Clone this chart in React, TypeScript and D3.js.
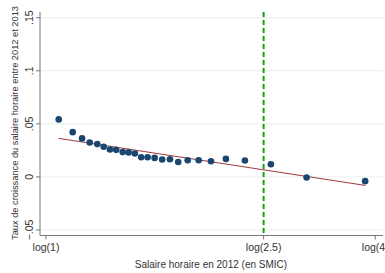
import React, { useEffect, useRef } from 'react';
import * as d3 from 'd3';

// binned points: hourly wage 2012 (in SMIC), growth rate 2012-2013
const wages = [1.055, 1.119, 1.164, 1.202, 1.241, 1.275, 1.309, 1.344, 1.381, 1.416, 1.454, 1.493, 1.534, 1.58, 1.631, 1.685, 1.745, 1.816, 1.902, 2.003, 2.133, 2.311, 2.578, 2.996, 3.834];
const growth = [0.0542, 0.0422, 0.0363, 0.0325, 0.0309, 0.0284, 0.0259, 0.0255, 0.0234, 0.0231, 0.0221, 0.0186, 0.0186, 0.0179, 0.0164, 0.0167, 0.0141, 0.0157, 0.0157, 0.0148, 0.017, 0.0155, 0.012, -0.0005, -0.004];

// linear fit ends
const fitX = [1.055, 3.834];
const fitY = [0.0363, -0.008];

const xTicks = [1, 2.5, 4];
const yTicks = [-0.05, 0, 0.05, 0.1, 0.15];
const threshold = 2.5;

const W = 385;
const H = 273;
const margin = { top: 12, right: 2, bottom: 38, left: 40 };

const fmtY = (v: number) => (v === 0 ? '0' : d3.format('.2~f')(v).replace('0.', '.'));

const App = () => {
  const ref = useRef<SVGSVGElement>(null);

  useEffect(() => {
    const svg = d3.select(ref.current);
    svg.selectAll('*').remove();

    const x = d3.scaleLog().domain([1, Math.exp(1.419)]).range([46, 383]);
    const y = d3.scaleLinear().domain([-0.05, 0.15]).range([230, 17.7]);
    const bottom = 235.5;
    const font = 'Liberation Sans, Arial, sans-serif';

    // grid
    svg.append('g')
      .selectAll('line')
      .data(yTicks)
      .enter()
      .append('line')
      .attr('x1', margin.left)
      .attr('x2', 383)
      .attr('y1', (d) => y(d))
      .attr('y2', (d) => y(d))
      .attr('stroke', '#e6eeee')
      .attr('stroke-width', 1);

    // axes
    const yAxis = svg.append('g').attr('transform', `translate(${margin.left},0)`);
    yAxis.append('line').attr('x1', 0).attr('x2', 0).attr('y1', margin.top).attr('y2', bottom).attr('stroke', '#777');
    yAxis.selectAll('.tick')
      .data(yTicks)
      .enter()
      .append('line')
      .attr('x1', -4)
      .attr('x2', 0)
      .attr('y1', (d) => y(d))
      .attr('y2', (d) => y(d))
      .attr('stroke', '#777');
    yAxis.selectAll('text')
      .data(yTicks)
      .enter()
      .append('text')
      .attr('transform', (d) => `translate(-7,${y(d)}) rotate(-90)`)
      .attr('text-anchor', 'middle')
      .attr('font-family', font)
      .attr('font-size', 10.5)
      .attr('fill', '#333')
      .text((d) => fmtY(d));

    const xAxis = svg.append('g');
    xAxis.append('line').attr('x1', margin.left).attr('x2', 383).attr('y1', bottom).attr('y2', bottom).attr('stroke', '#777');
    xAxis.selectAll('.tick')
      .data(xTicks)
      .enter()
      .append('line')
      .attr('x1', (d) => x(d))
      .attr('x2', (d) => x(d))
      .attr('y1', bottom)
      .attr('y2', bottom + 4)
      .attr('stroke', '#777');
    xAxis.selectAll('text')
      .data(xTicks)
      .enter()
      .append('text')
      .attr('x', (d) => x(d))
      .attr('y', bottom + 15)
      .attr('text-anchor', 'middle')
      .attr('font-family', font)
      .attr('font-size', 10.5)
      .attr('fill', '#333')
      .text((d) => `log(${d})`);

    // titles
    svg.append('text')
      .attr('x', 211)
      .attr('y', 268)
      .attr('text-anchor', 'middle')
      .attr('font-family', font)
      .attr('font-size', 10)
      .attr('fill', '#333')
      .text('Salaire horaire en 2012 (en SMIC)');

    svg.append('text')
      .attr('transform', `translate(18,123) rotate(-90)`)
      .attr('text-anchor', 'middle')
      .attr('font-family', font)
      .attr('font-size', 9.5)
      .attr('textLength', 234)
      .attr('lengthAdjust', 'spacingAndGlyphs')
      .attr('fill', '#333')
      .text('Taux de croissance du salaire horaire entre 2012 et 2013');

    // fit line
    const line = d3.line<number>().x((d, i) => x(fitX[i])).y((d) => y(d));
    svg.append('path')
      .datum(fitY)
      .attr('d', line)
      .attr('fill', 'none')
      .attr('stroke', '#a0383f')
      .attr('stroke-width', 1);

    // threshold
    svg.append('line')
      .attr('x1', x(threshold))
      .attr('x2', x(threshold))
      .attr('y1', margin.top)
      .attr('y2', bottom)
      .attr('stroke', '#10a010')
      .attr('stroke-width', 2)
      .attr('stroke-dasharray', '5,3');

    // points
    svg.append('g')
      .selectAll('circle')
      .data(wages)
      .enter()
      .append('circle')
      .attr('cx', (d) => x(d))
      .attr('cy', (d, i) => y(growth[i]))
      .attr('r', 3.3)
      .attr('fill', '#1a476f');
  }, []);

  return (
    <svg
      ref={ref}
      width={W}
      height={H}
      style={{ position: 'absolute', left: 0, top: 0, background: '#fff' }}
    ></svg>
  );
};

export default App;
